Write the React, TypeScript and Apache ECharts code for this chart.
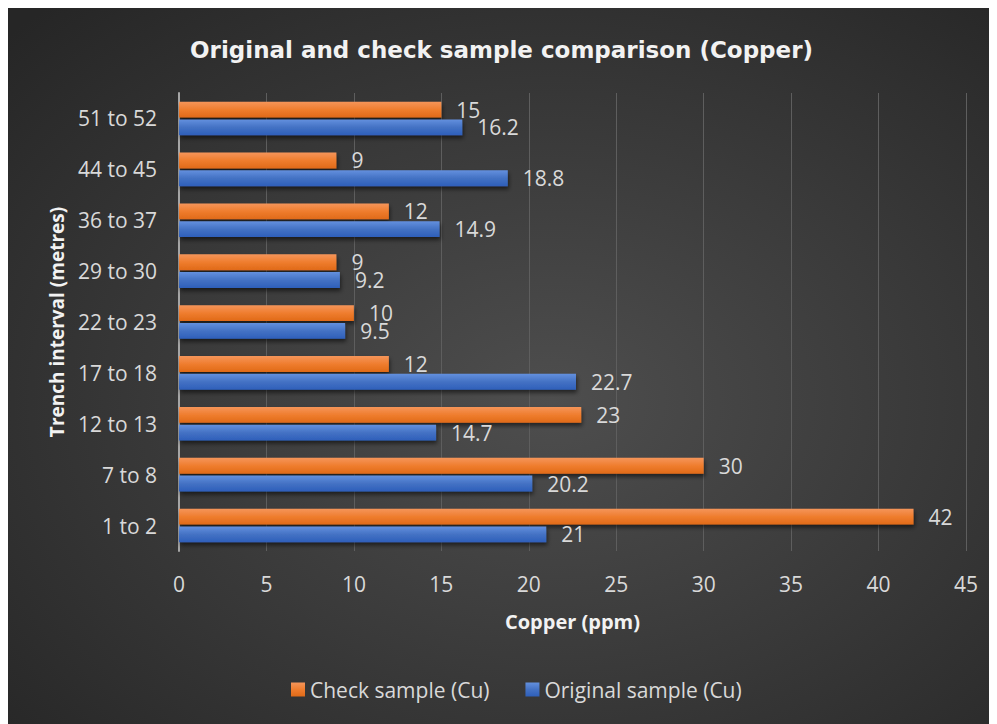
import React, { useEffect, useRef } from "react";
import * as echarts from "echarts";

const categories = ["1 to 2", "7 to 8", "12 to 13", "17 to 18", "22 to 23", "29 to 30", "36 to 37", "44 to 45", "51 to 52"];
const checkSample = [42, 30, 23, 12, 10, 9, 12, 9, 15];
const originalSample = [21, 20.2, 14.7, 22.7, 9.5, 9.2, 14.9, 18.8, 16.2];
const xTicks = { min: 0, max: 45, interval: 5 };

const FONT = "Open Sans";

export default function App() {
  const ref = useRef<HTMLDivElement>(null);
  useEffect(() => {
    if (!ref.current) return;
    const chart = echarts.init(ref.current, null, { renderer: "svg" });
    const orangeGrad = new echarts.graphic.LinearGradient(0, 0, 0, 1, [
      { offset: 0, color: "#f5955a" },
      { offset: 0.5, color: "#ef7d2e" },
      { offset: 1, color: "#e06a18" },
    ]);
    const blueGrad = new echarts.graphic.LinearGradient(0, 0, 0, 1, [
      { offset: 0, color: "#6390de" },
      { offset: 0.5, color: "#4472c4" },
      { offset: 1, color: "#2e5fba" },
    ]);
    const labelStyle = {
      show: true,
      position: "right" as const,
      distance: 15,
      color: "#d9d9d9",
      fontSize: 21,
      lineHeight: 17,
      fontFamily: FONT,
    };
    chart.setOption({
      animation: false,
      backgroundColor: {
        type: "radial",
        x: 0.55,
        y: 0.55,
        r: 0.75,
        colorStops: [
          { offset: 0, color: "#4e4e4e" },
          { offset: 1, color: "#262626" },
        ],
      },
      title: {
        text: "Original and check sample comparison (Copper)",
        left: "center",
        top: 25,
        textStyle: {
          color: "#f2f2f2",
          fontSize: 23,
          fontWeight: "bold",
          fontFamily: "DejaVu Sans",
        },
      },
      grid: { left: 173, right: 31, top: 85, bottom: 173, containLabel: false },
      legend: {
        bottom: 19,
        left: 280,
        icon: "rect",
        itemWidth: 14,
        itemHeight: 14,
        itemGap: 36,
        textStyle: { color: "#d9d9d9", fontSize: 21, fontFamily: FONT },
        data: ["Check sample (Cu)", "Original sample (Cu)"],
      },
      xAxis: {
        type: "value",
        min: xTicks.min,
        max: xTicks.max,
        interval: xTicks.interval,
        name: "Copper (ppm)",
        nameLocation: "middle",
        nameGap: 60,
        nameTextStyle: { color: "#f2f2f2", fontSize: 20, fontWeight: "bold", fontFamily: FONT },
        axisLine: { show: false },
        axisTick: { show: false },
        axisLabel: { color: "#d9d9d9", fontSize: 21, margin: 22, fontFamily: FONT },
        splitLine: { show: true, lineStyle: { color: "#5e5e5e", width: 1 } },
      },
      yAxis: {
        type: "category",
        data: categories,
        name: "Trench interval (metres)",
        nameLocation: "middle",
        nameGap: 113,
        nameRotate: 90,
        nameTextStyle: { color: "#f2f2f2", fontSize: 19, fontWeight: "bold", fontFamily: FONT },
        axisLine: { show: true, lineStyle: { color: "#a6a6a6", width: 2 } },
        axisTick: { show: false },
        axisLabel: { color: "#d9d9d9", fontSize: 21, margin: 22, fontFamily: FONT },
        splitLine: { show: false },
      },
      series: [
        {
          name: "Check sample (Cu)",
          type: "bar",
          data: checkSample,
          barGap: "12%",
          barCategoryGap: "34%",
          itemStyle: {
            color: orangeGrad,
            shadowColor: "rgba(0,0,0,0.55)",
            shadowBlur: 4,
            shadowOffsetY: 3,
            shadowOffsetX: 1,
          },
          label: labelStyle,
        },
        {
          name: "Original sample (Cu)",
          type: "bar",
          data: originalSample,
          barGap: "12%",
          barCategoryGap: "34%",
          itemStyle: {
            color: blueGrad,
            shadowColor: "rgba(0,0,0,0.55)",
            shadowBlur: 4,
            shadowOffsetY: 3,
            shadowOffsetX: 1,
          },
          label: labelStyle,
        },
      ],
    });
    return () => chart.dispose();
  }, []);
  return <div ref={ref} style={{ width: 991, height: 716, marginLeft: -2 }} />;
}
